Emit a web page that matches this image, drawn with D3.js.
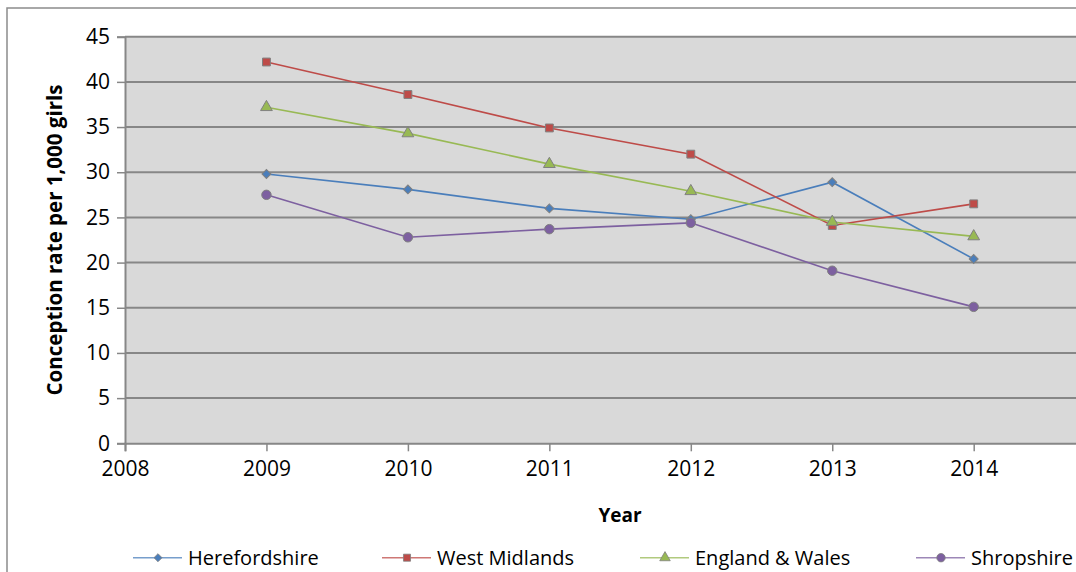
<!DOCTYPE html>
<html><head><meta charset="utf-8">
<script src="https://cdn.jsdelivr.net/npm/d3@7"></script>
<style>body{margin:0;background:#fff;} svg{display:block;font-family:"Open Sans",sans-serif;}</style>
</head><body>
<svg id="c" width="1076" height="572"></svg>
<script>
const years = [2009, 2010, 2011, 2012, 2013, 2014];
const seriesNames = ["Herefordshire", "West Midlands", "England & Wales", "Shropshire"];
const herefordshire = [29.8, 28.1, 26.0, 24.8, 28.9, 20.4];
const westMidlands = [42.2, 38.6, 34.9, 32.0, 24.1, 26.5];
const englandWales = [37.2, 34.3, 30.9, 27.9, 24.5, 22.9];
const shropshire = [27.5, 22.8, 23.7, 24.4, 19.1, 15.1];
const xTicks = [2008, 2009, 2010, 2011, 2012, 2013, 2014];
const yTicks = [0, 5, 10, 15, 20, 25, 30, 35, 40, 45];

const colors = ["#4a7ebb", "#be4b48", "#98b954", "#7d60a0"];
const symbols = [d3.symbolSquare, d3.symbolSquare, d3.symbolTriangle, d3.symbolCircle];
const symRot = [45, 0, 0, 0];
const symSizes = [40, 62, 60, 70];
const allValues = [herefordshire, westMidlands, englandWales, shropshire];

const svg = d3.select("#c");
const L = 125, T = 36.7, B = 443.3;
const x = d3.scaleLinear().domain([2008, 2015]).range([L, L + 7 * 141.45]);
const y = d3.scaleLinear().domain([0, 45]).range([B, T]);

// outer border
svg.append("rect").attr("x", 7).attr("y", 8).attr("width", 1200).attr("height", 700)
  .attr("fill", "none").attr("stroke", "#8c8c8c").attr("stroke-width", 1.5);

// plot background
svg.append("rect").attr("x", L).attr("y", T).attr("width", x(2015) - L).attr("height", B - T)
  .attr("fill", "#d9d9d9");

// gridlines
svg.append("g").selectAll("line").data(yTicks.filter(d => d > 0)).join("line")
  .attr("x1", L).attr("x2", x(2015)).attr("y1", d => y(d)).attr("y2", d => y(d))
  .attr("stroke", "#878787").attr("stroke-width", 2);

// y axis
const yAxis = svg.append("g").attr("transform", `translate(${L},0)`)
  .call(d3.axisLeft(y).tickValues(yTicks).tickSize(8).tickPadding(7).tickFormat(d3.format("d")));
yAxis.select(".domain").attr("stroke", "#878787").attr("stroke-width", 2);
yAxis.selectAll(".tick line").attr("stroke", "#878787").attr("stroke-width", 1.5);
yAxis.selectAll("text").attr("font-size", 21).attr("fill", "#000").attr("font-family", "Open Sans");

// x axis
const xAxis = svg.append("g").attr("transform", `translate(0,${B})`)
  .call(d3.axisBottom(x).tickValues(xTicks).tickSize(8).tickPadding(10).tickFormat(d3.format("d")));
xAxis.select(".domain").attr("stroke", "#878787").attr("stroke-width", 2);
xAxis.selectAll(".tick line").attr("stroke", "#878787").attr("stroke-width", 1.5);
xAxis.selectAll("text").attr("font-size", 21).attr("fill", "#000").attr("font-family", "Open Sans");

// titles
svg.append("text").attr("x", 620).attr("y", 522).attr("text-anchor", "middle")
  .attr("font-weight", "bold").attr("font-size", 19).text("Year");
svg.append("text").attr("transform", "translate(62,240) rotate(-90)").attr("text-anchor", "middle")
  .attr("font-weight", "bold").attr("font-size", 20.5).text("Conception rate per 1,000 girls");

// series
const line = d3.line().x((d, i) => x(years[i])).y(d => y(d));
allValues.forEach((vals, si) => {
  svg.append("path").datum(vals).attr("d", line).attr("fill", "none")
    .attr("stroke", colors[si]).attr("stroke-width", 1.6);
});
allValues.forEach((vals, si) => {
  svg.append("g").selectAll("path").data(vals).join("path")
    .attr("transform", (d, i) => `translate(${x(years[i])},${y(d)}) rotate(${symRot[si]})`)
    .attr("d", d3.symbol().type(symbols[si]).size(symSizes[si]))
    .attr("fill", colors[si]).attr("stroke", "#808080").attr("stroke-width", 1);
});

// legend
const legX = [133, 382, 640, 916];
const legY = 557.7;
seriesNames.forEach((name, si) => {
  const g = svg.append("g").attr("transform", `translate(${legX[si]},${legY})`);
  g.append("line").attr("x1", 0).attr("x2", 49).attr("y1", 0).attr("y2", 0)
    .attr("stroke", colors[si]).attr("stroke-width", 1.6).attr("opacity", 0.75);
  g.append("path").attr("transform", `translate(25,0) rotate(${symRot[si]})`)
    .attr("d", d3.symbol().type(symbols[si]).size(symSizes[si] * 0.8))
    .attr("fill", colors[si]).attr("stroke", "#808080").attr("stroke-width", 0.8);
  g.append("text").attr("x", 55).attr("y", 0).attr("dy", "0.35em")
    .attr("font-size", 20).attr("fill", "#000").text(name);
});
</script>
</body></html>
